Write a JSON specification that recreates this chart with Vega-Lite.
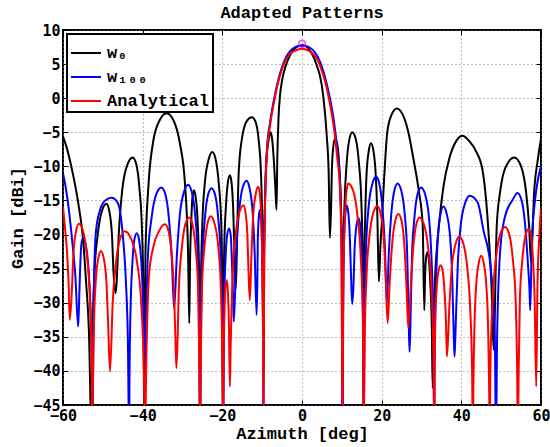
{
"$schema": "https://vega.github.io/schema/vega-lite/v6.json",
"width": 478, "height": 375,
"autosize": {"type": "none"},
"padding": {"left": 63, "top": 30, "right": 9, "bottom": 42},
"background": "white",
"title": {"text": "Adapted Patterns", "font": "Liberation Mono", "fontSize": 17, "fontWeight": "bold", "color": "black", "offset": 1},
"datasets": {
"black": [
{"x":-60,"y":-5.6},{"x":-59,"y":-7.4},{"x":-58,"y":-9.8},{"x":-57,"y":-12.6},{"x":-56,"y":-16},{"x":-55,"y":-20.5},{"x":-54.2,"y":-27},{"x":-53.5,"y":-34},{"x":-52.8,"y":-50},
{"x":-52.6,"y":-36},{"x":-52.1,"y":-25.7},{"x":-51.3,"y":-20.1},{"x":-50.2,"y":-16.5},{"x":-49.1,"y":-15.5},{"x":-48.4,"y":-16.5},{"x":-47.7,"y":-20.1},{"x":-47.3,"y":-25.7},{"x":-46.8,"y":-28.6},
{"x":-45.9,"y":-18.9},{"x":-45.1,"y":-13.3},{"x":-43.8,"y":-9.7},{"x":-42.5,"y":-8.7},{"x":-41.6,"y":-9.7},{"x":-40.8,"y":-13.3},{"x":-40.2,"y":-18.9},{"x":-39.8,"y":-29.2},{"x":-39.6,"y":-50},
{"x":-39.3,"y":-22.7},{"x":-38.5,"y":-12.4},{"x":-37.4,"y":-6.5},{"x":-35.7,"y":-3.2},{"x":-34.0,"y":-2.2},{"x":-32.3,"y":-3.2},{"x":-30.6,"y":-6.8},{"x":-29.4,"y":-12.4},{"x":-28.6,"y":-22.7},{"x":-28.3,"y":-33},
{"x":-28.1,"y":-23.7},{"x":-27.8,"y":-18.1},{"x":-27.5,"y":-14.5},{"x":-27.1,"y":-13.5},{"x":-26.7,"y":-14.5},{"x":-26.2,"y":-18.1},{"x":-25.9,"y":-23.7},{"x":-25.7,"y":-34},{"x":-25.6,"y":-50},
{"x":-25.4,"y":-28.4},{"x":-25.0,"y":-18.1},{"x":-24.4,"y":-12.5},{"x":-23.4,"y":-8.9},{"x":-22.5,"y":-7.9},{"x":-21.7,"y":-8.9},{"x":-20.9,"y":-12.5},{"x":-20.3,"y":-18.1},{"x":-20.0,"y":-28.4},{"x":-19.8,"y":-50},
{"x":-19.7,"y":-31.8},{"x":-19.5,"y":-21.5},{"x":-19.1,"y":-15.9},{"x":-18.6,"y":-12.3},{"x":-18.1,"y":-11.3},{"x":-17.7,"y":-12.3},{"x":-17.3,"y":-15.9},{"x":-17.0,"y":-21.5},{"x":-16.7,"y":-28.1},
{"x":-15.9,"y":-11},{"x":-15.1,"y":-6},{"x":-13.8,"y":-3.3},{"x":-12.6,"y":-2.8},{"x":-11.7,"y":-3.4},{"x":-10.9,"y":-6},{"x":-10.3,"y":-11},{"x":-9.9,"y":-22},{"x":-9.7,"y":-40},
{"x":-9.6,"y":-25.7},{"x":-9.3,"y":-15.4},{"x":-9.0,"y":-9.8},{"x":-8.4,"y":-6.2},{"x":-7.9,"y":-5.0},{"x":-7.5,"y":-6.0},{"x":-7.0,"y":-9.8},{"x":-6.7,"y":-13},{"x":-6.4,"y":-16.4},
{"x":-6.2,"y":-9},{"x":-5.9,"y":-3},{"x":-5.5,"y":0.5},{"x":-5.0,"y":2.6},{"x":-4.0,"y":4.9},{"x":-3.0,"y":6.3},{"x":-2.0,"y":7.2},{"x":-1.0,"y":7.6},{"x":0,"y":7.75},{"x":1,"y":7.6},{"x":2,"y":7.0},{"x":3,"y":5.9},{"x":4,"y":4.3},{"x":4.5,"y":3.3},{"x":5.3,"y":0.5},{"x":6.2,"y":-5.4},{"x":6.7,"y":-11},{"x":7.0,"y":-20.5},
{"x":7.3,"y":-16.1},{"x":7.5,"y":-10.5},{"x":7.9,"y":-6.9},{"x":8.3,"y":-5.9},{"x":8.9,"y":-6.9},{"x":9.4,"y":-10.5},{"x":9.8,"y":-16.1},{"x":10.1,"y":-26.4},{"x":10.2,"y":-50},
{"x":10.3,"y":-25.5},{"x":10.7,"y":-15.2},{"x":11.2,"y":-9.6},{"x":11.9,"y":-6.0},{"x":12.6,"y":-5.0},{"x":13.5,"y":-6.0},{"x":14.3,"y":-9.6},{"x":14.9,"y":-15.2},{"x":15.3,"y":-25.5},{"x":15.5,"y":-50},
{"x":15.6,"y":-27.1},{"x":15.9,"y":-16.8},{"x":16.2,"y":-11.2},{"x":16.8,"y":-7.6},{"x":17.3,"y":-6.6},{"x":17.9,"y":-7.6},{"x":18.5,"y":-11.2},{"x":18.9,"y":-16.8},{"x":19.3,"y":-26.9},
{"x":19.7,"y":-21.5},{"x":20.0,"y":-18.6},{"x":20.6,"y":-12},{"x":21.4,"y":-5},{"x":22.5,"y":-2.4},{"x":23.8,"y":-1.5},{"x":25.2,"y":-2.3},{"x":26.7,"y":-5},{"x":28.0,"y":-9},{"x":29.3,"y":-13.5},{"x":30.3,"y":-18.6},{"x":30.7,"y":-31.1},
{"x":30.9,"y":-26},{"x":31.2,"y":-23.2},{"x":31.5,"y":-22.6},{"x":31.8,"y":-23.3},{"x":32.2,"y":-27},{"x":32.6,"y":-34},{"x":32.8,"y":-42.5},
{"x":33.3,"y":-28},{"x":34.4,"y":-18.6},{"x":35.5,"y":-13},{"x":37.0,"y":-8.8},{"x":38.7,"y":-6.3},{"x":40.3,"y":-5.5},{"x":42.0,"y":-6.3},{"x":43.7,"y":-7.8},{"x":45.3,"y":-10.5},{"x":46.7,"y":-18.6},{"x":47.6,"y":-28},{"x":48.1,"y":-36.9},
{"x":48.9,"y":-18.6},{"x":49.8,"y":-13.5},{"x":51.0,"y":-10.3},{"x":53.3,"y":-8.7},{"x":55.0,"y":-10},{"x":56.3,"y":-14},{"x":57.0,"y":-18.6},{"x":57.5,"y":-24},
{"x":58.3,"y":-13.5},{"x":59.2,"y":-9},{"x":60,"y":-5.9}
],
"blue": [
{"x":-60,"y":-11.0},{"x":-59.2,"y":-13.5},{"x":-58.4,"y":-17},{"x":-57.6,"y":-21.5},{"x":-56.9,"y":-26},{"x":-56.2,"y":-33.5},
{"x":-56.0,"y":-30.7},{"x":-55.7,"y":-25.1},{"x":-55.4,"y":-21.5},{"x":-55.0,"y":-20.5},{"x":-54.3,"y":-21.5},{"x":-53.6,"y":-25.1},{"x":-53.1,"y":-30.7},{"x":-52.7,"y":-41},{"x":-52.6,"y":-50},
{"x":-52.3,"y":-30},{"x":-51.8,"y":-20},{"x":-50.9,"y":-16.8},{"x":-49.4,"y":-15.0},{"x":-47.8,"y":-14.6},{"x":-46.3,"y":-15.3},{"x":-45.0,"y":-20},{"x":-44.2,"y":-27},{"x":-43.7,"y":-36},{"x":-43.4,"y":-50},
{"x":-43.3,"y":-40.3},{"x":-43.0,"y":-30.0},{"x":-42.6,"y":-24.4},{"x":-42.1,"y":-20.8},{"x":-41.5,"y":-19.8},{"x":-40.9,"y":-20.8},{"x":-40.3,"y":-24.4},{"x":-39.9,"y":-30.0},{"x":-39.5,"y":-39.1},
{"x":-39.2,"y":-33.6},{"x":-38.7,"y":-23.3},{"x":-37.8,"y":-17.7},{"x":-36.6,"y":-14.1},{"x":-35.3,"y":-13.1},{"x":-34.3,"y":-14.1},{"x":-33.4,"y":-17.7},{"x":-32.7,"y":-23.3},{"x":-32.1,"y":-30.8},
{"x":-31.4,"y":-22.9},{"x":-30.7,"y":-17.3},{"x":-29.6,"y":-13.7},{"x":-28.6,"y":-12.7},{"x":-27.7,"y":-13.7},{"x":-26.8,"y":-17.3},{"x":-26.2,"y":-22.9},{"x":-25.8,"y":-33.2},{"x":-25.6,"y":-50},
{"x":-25.4,"y":-33.7},{"x":-25.0,"y":-23.4},{"x":-24.4,"y":-17.8},{"x":-23.6,"y":-14.2},{"x":-22.7,"y":-13.2},{"x":-21.8,"y":-14.2},{"x":-21.0,"y":-17.8},{"x":-20.4,"y":-23.4},{"x":-20.0,"y":-33.7},{"x":-19.8,"y":-50},
{"x":-19.7,"y":-39.6},{"x":-19.5,"y":-29.3},{"x":-19.2,"y":-23.7},{"x":-18.8,"y":-20.1},{"x":-18.3,"y":-19.1},{"x":-17.9,"y":-20.1},{"x":-17.6,"y":-23.7},{"x":-17.3,"y":-29.3},{"x":-17.1,"y":-32.8},
{"x":-16.5,"y":-22.3},{"x":-15.8,"y":-16.7},{"x":-14.9,"y":-13.1},{"x":-13.9,"y":-12.1},{"x":-13.2,"y":-13.1},{"x":-12.4,"y":-16.7},{"x":-11.9,"y":-22.3},{"x":-11.4,"y":-31.8},
{"x":-11.2,"y":-26.6},{"x":-11.1,"y":-21},{"x":-10.85,"y":-17.4},{"x":-10.6,"y":-16.4},{"x":-10.35,"y":-17.4},{"x":-10.05,"y":-21},{"x":-9.9,"y":-26.6},{"x":-9.75,"y":-36},{"x":-9.7,"y":-50},
{"x":-9.5,"y":-24},{"x":-9.2,"y":-13},{"x":-8.8,"y":-7.5},{"x":-8.0,"y":-3.5},{"x":-7,"y":-0.1},{"x":-6,"y":2.6},{"x":-5,"y":4.6},{"x":-4,"y":6.0},{"x":-3,"y":6.9},{"x":-2,"y":7.4},{"x":-1,"y":7.65},{"x":0,"y":7.7},{"x":1,"y":7.65},{"x":2,"y":7.4},{"x":3,"y":6.9},{"x":4,"y":6.0},{"x":5,"y":4.6},{"x":6,"y":2.6},{"x":7,"y":0.0},{"x":8,"y":-3.3},{"x":8.8,"y":-7.2},{"x":9.5,"y":-12},{"x":9.9,"y":-20},{"x":10.2,"y":-50},
{"x":10.3,"y":-36.2},{"x":10.4,"y":-25.9},{"x":10.6,"y":-20.3},{"x":10.9,"y":-16.7},{"x":11.2,"y":-15.7},{"x":11.6,"y":-16.7},{"x":12.0,"y":-20.3},{"x":12.3,"y":-25.9},{"x":12.6,"y":-30.2},
{"x":12.9,"y":-27.8},{"x":13.2,"y":-22.2},{"x":13.7,"y":-18.6},{"x":14.2,"y":-17.6},{"x":14.6,"y":-18.6},{"x":15.0,"y":-22.2},{"x":15.2,"y":-27.8},{"x":15.4,"y":-38},{"x":15.5,"y":-50},
{"x":15.7,"y":-32},{"x":16.1,"y":-21.7},{"x":16.7,"y":-16.1},{"x":17.7,"y":-12.5},{"x":18.6,"y":-11.5},{"x":19.4,"y":-12.5},{"x":20.2,"y":-16.1},{"x":20.8,"y":-21.7},{"x":21.3,"y":-30.1},
{"x":21.8,"y":-22.7},{"x":22.4,"y":-17.1},{"x":23.2,"y":-13.5},{"x":24.0,"y":-12.5},{"x":24.9,"y":-13.5},{"x":25.8,"y":-17.1},{"x":26.4,"y":-22.7},{"x":26.8,"y":-33},{"x":27.0,"y":-37.2},
{"x":27.2,"y":-33.6},{"x":27.6,"y":-23.3},{"x":28.2,"y":-17.7},{"x":29.0,"y":-14.1},{"x":29.9,"y":-13.1},{"x":30.9,"y":-14.1},{"x":31.9,"y":-17.7},{"x":32.5,"y":-23.3},{"x":33.0,"y":-33.6},{"x":33.2,"y":-50},
{"x":33.3,"y":-36.4},{"x":33.7,"y":-26.1},{"x":34.1,"y":-20.5},{"x":34.8,"y":-16.9},{"x":35.5,"y":-15.9},{"x":36.3,"y":-16.9},{"x":37.2,"y":-20.5},{"x":37.7,"y":-26.1},{"x":38.1,"y":-35},{"x":38.3,"y":-37.9},
{"x":38.5,"y":-34.8},{"x":39.1,"y":-24.5},{"x":39.8,"y":-18.9},{"x":41.0,"y":-15.3},{"x":42.1,"y":-14.3},{"x":44.1,"y":-15.3},{"x":45.6,"y":-19.5},{"x":47.3,"y":-24.5},{"x":48.4,"y":-34.8},{"x":48.7,"y":-50},
{"x":49.0,"y":-34.4},{"x":49.8,"y":-22},{"x":50.9,"y":-17.5},{"x":52.9,"y":-14.9},{"x":54.1,"y":-13.9},{"x":55.1,"y":-14.9},{"x":56.0,"y":-18.5},{"x":56.7,"y":-24.1},{"x":57.1,"y":-28},{"x":57.3,"y":-31.1},
{"x":57.7,"y":-21},{"x":58.4,"y":-15.5},{"x":59.2,"y":-12},{"x":60,"y":-10.0}
],
"red": [
{"x":-60,"y":-15.9},{"x":-59.5,"y":-19},{"x":-59.0,"y":-22.5},{"x":-58.6,"y":-27},{"x":-58.3,"y":-32.5},
{"x":-57.8,"y":-28.6},{"x":-57.4,"y":-23.0},{"x":-56.7,"y":-19.4},{"x":-56.0,"y":-18.4},{"x":-55.0,"y":-19.4},{"x":-54.0,"y":-23.0},{"x":-53.3,"y":-28.6},{"x":-52.8,"y":-38.9},{"x":-52.6,"y":-50},
{"x":-52.5,"y":-42.9},{"x":-52.2,"y":-32.6},{"x":-51.8,"y":-27.0},{"x":-51.1,"y":-23.4},{"x":-50.5,"y":-22.4},{"x":-49.8,"y":-23.4},{"x":-49.1,"y":-27.0},{"x":-48.7,"y":-32.6},{"x":-48.2,"y":-40.1},
{"x":-47.5,"y":-29.7},{"x":-46.7,"y":-24.1},{"x":-45.6,"y":-20.5},{"x":-44.5,"y":-19.5},{"x":-43.0,"y":-20.5},{"x":-41.4,"y":-24.1},{"x":-40.4,"y":-29.7},{"x":-39.7,"y":-40},{"x":-39.4,"y":-50},
{"x":-39.1,"y":-39},{"x":-38.4,"y":-26},{"x":-37.4,"y":-22},{"x":-35.9,"y":-19.5},{"x":-34.4,"y":-18.5},{"x":-33.5,"y":-19.5},{"x":-32.7,"y":-23.1},{"x":-32.1,"y":-28.7},{"x":-31.7,"y":-37},{"x":-31.5,"y":-39.6},
{"x":-30.9,"y":-27.7},{"x":-30.2,"y":-22.1},{"x":-29.3,"y":-18.5},{"x":-28.3,"y":-17.5},{"x":-27.5,"y":-18.5},{"x":-26.7,"y":-22.1},{"x":-26.1,"y":-27.7},{"x":-25.8,"y":-38},{"x":-25.6,"y":-50},
{"x":-25.4,"y":-37.8},{"x":-25.1,"y":-27.5},{"x":-24.5,"y":-21.9},{"x":-23.7,"y":-18.3},{"x":-22.9,"y":-17.3},{"x":-22.0,"y":-18.3},{"x":-21.0,"y":-21.9},{"x":-20.4,"y":-27.5},{"x":-20.0,"y":-37.8},{"x":-19.8,"y":-50},
{"x":-19.7,"y":-40},{"x":-19.5,"y":-32},{"x":-19.2,"y":-27.7},{"x":-18.9,"y":-26.7},{"x":-18.6,"y":-28.5},{"x":-18.35,"y":-33},{"x":-18.1,"y":-42.3},
{"x":-17.9,"y":-36.2},{"x":-17.4,"y":-25.9},{"x":-16.7,"y":-20.3},{"x":-15.7,"y":-16.7},{"x":-14.7,"y":-15.7},{"x":-14.2,"y":-16.7},{"x":-13.7,"y":-20.3},{"x":-13.4,"y":-25.9},{"x":-13.1,"y":-29.6},
{"x":-12.7,"y":-23.2},{"x":-12.3,"y":-17.6},{"x":-11.6,"y":-14.0},{"x":-11.0,"y":-13.0},{"x":-10.6,"y":-14.0},{"x":-10.2,"y":-17.6},{"x":-10.0,"y":-23.2},{"x":-9.8,"y":-33.5},{"x":-9.7,"y":-50},
{"x":-9.5,"y":-25},{"x":-9.2,"y":-14},{"x":-8.8,"y":-8},{"x":-8.0,"y":-3.9},{"x":-7.0,"y":-0.5},{"x":-6.0,"y":2.3},{"x":-5.0,"y":4.3},{"x":-4.0,"y":5.7},{"x":-3.0,"y":6.5},{"x":-2.0,"y":6.9},{"x":-1.0,"y":7.15},{"x":0,"y":7.25},{"x":1,"y":7.15},{"x":2,"y":6.85},{"x":3,"y":6.4},{"x":4,"y":5.5},{"x":5,"y":4.0},{"x":6,"y":2.0},{"x":7,"y":-0.8},{"x":8,"y":-4.3},{"x":8.8,"y":-8.5},{"x":9.5,"y":-13},{"x":9.9,"y":-22},{"x":10.2,"y":-50},
{"x":10.3,"y":-33},{"x":10.5,"y":-22.7},{"x":10.8,"y":-17.1},{"x":11.2,"y":-13.5},{"x":11.6,"y":-12.5},{"x":12.8,"y":-13.5},{"x":13.9,"y":-17.1},{"x":14.7,"y":-22.7},{"x":15.3,"y":-33},{"x":15.5,"y":-50},
{"x":15.7,"y":-36.3},{"x":16.2,"y":-26},{"x":16.9,"y":-20.4},{"x":17.9,"y":-16.8},{"x":18.9,"y":-15.8},{"x":19.7,"y":-16.8},{"x":20.5,"y":-20.4},{"x":21.0,"y":-26},{"x":21.5,"y":-33.0},
{"x":22.0,"y":-27.2},{"x":22.6,"y":-21.6},{"x":23.4,"y":-18.0},{"x":24.2,"y":-17.0},{"x":25.0,"y":-18.0},{"x":25.7,"y":-21.6},{"x":26.2,"y":-27.2},{"x":26.7,"y":-33.7},
{"x":27.3,"y":-27.7},{"x":27.9,"y":-22.1},{"x":28.7,"y":-18.5},{"x":29.5,"y":-17.5},{"x":30.6,"y":-18.5},{"x":31.7,"y":-22.1},{"x":32.5,"y":-27.7},{"x":33.0,"y":-38},{"x":33.2,"y":-50},
{"x":33.3,"y":-40},{"x":33.5,"y":-32},{"x":33.8,"y":-28},{"x":34.3,"y":-25.3},{"x":34.8,"y":-24.5},{"x":35.3,"y":-25.3},{"x":35.8,"y":-28.5},{"x":36.1,"y":-32},{"x":36.4,"y":-37.9},
{"x":37.0,"y":-30.5},{"x":37.6,"y":-24.9},{"x":38.6,"y":-21.3},{"x":39.5,"y":-20.3},{"x":40.5,"y":-21.3},{"x":41.5,"y":-24.9},{"x":42.2,"y":-30.5},{"x":42.7,"y":-40},{"x":42.9,"y":-50},
{"x":43.0,"y":-43.6},{"x":43.3,"y":-33.3},{"x":43.7,"y":-27.7},{"x":44.4,"y":-24.1},{"x":45.0,"y":-23.1},{"x":45.6,"y":-24.1},{"x":46.3,"y":-27.7},{"x":46.7,"y":-33.3},{"x":47.0,"y":-43.6},{"x":47.1,"y":-50},
{"x":47.3,"y":-39.4},{"x":47.9,"y":-29.1},{"x":48.7,"y":-23.5},{"x":49.8,"y":-19.9},{"x":51.0,"y":-18.9},{"x":52.0,"y":-19.9},{"x":52.9,"y":-23.5},{"x":53.6,"y":-29.1},{"x":54.0,"y":-39.4},{"x":54.2,"y":-50},
{"x":54.4,"y":-39.7},{"x":54.7,"y":-29.4},{"x":55.3,"y":-23.8},{"x":56.1,"y":-20.2},{"x":56.9,"y":-19.2},{"x":57.5,"y":-20.2},{"x":58.0,"y":-23.8},{"x":58.4,"y":-29.4},{"x":58.8,"y":-42.3},
{"x":59.1,"y":-28},{"x":59.5,"y":-21},{"x":60,"y":-16.1}
],
"peak": [{"x":0,"y":7.95}]
},
"layer": [
{"data": {"name": "black"},
 "mark": {"type": "line", "clip": true, "strokeWidth": 2, "interpolate": "monotone"},
 "encoding": {
  "x": {"field": "x", "type": "quantitative", "scale": {"domain": [-60, 60], "nice": false, "zero": false},
        "axis": {"values": [-60,-40,-20,0,20,40,60], "title": "Azimuth [deg]", "labelPadding": 8, "titlePadding": 2}},
  "y": {"field": "y", "type": "quantitative", "scale": {"domain": [-45, 10], "nice": false, "zero": false},
        "axis": {"values": [-45,-40,-35,-30,-25,-20,-15,-10,-5,0,5,10], "title": "Gain [dBi]", "labelPadding": 8, "titlePadding": 6}},
  "color": {"datum": "w₀", "type": "nominal",
            "scale": {"domain": ["w₀", "w₁₀₀", "Analytical"], "range": ["#000000", "#0000ff", "#ff0000"]},
            "legend": {"title": null, "orient": "top-left", "offset": 4}}
 }},
{"data": {"name": "blue"},
 "mark": {"type": "line", "clip": true, "strokeWidth": 2, "interpolate": "monotone"},
 "encoding": {
  "x": {"field": "x", "type": "quantitative", "axis": null},
  "y": {"field": "y", "type": "quantitative", "axis": null},
  "color": {"datum": "w₁₀₀", "type": "nominal"}
 }},
{"data": {"name": "red"},
 "mark": {"type": "line", "clip": true, "strokeWidth": 2, "interpolate": "monotone"},
 "encoding": {
  "x": {"field": "x", "type": "quantitative", "axis": null},
  "y": {"field": "y", "type": "quantitative", "axis": null},
  "color": {"datum": "Analytical", "type": "nominal"}
 }},
{"data": {"name": "peak"},
 "mark": {"type": "point", "shape": "circle", "filled": false, "color": "#ff00ff", "size": 45, "strokeWidth": 1.5},
 "encoding": {
  "x": {"field": "x", "type": "quantitative", "axis": {"orient": "top", "values": [-60,-40,-20,0,20,40,60], "labels": false, "grid": false, "title": null}},
  "y": {"field": "y", "type": "quantitative", "axis": {"orient": "right", "values": [-45,-40,-35,-30,-25,-20,-15,-10,-5,0,5,10], "labels": false, "grid": false, "title": null}}
 }}
],
"resolve": {"axis": {"x": "independent", "y": "independent"}},
"config": {
 "view": {"stroke": "black", "strokeWidth": 2},
 "axis": {"domain": false, "grid": true, "gridColor": "#7a7a7a", "gridDash": [1, 3], "gridWidth": 1,
          "tickColor": "black", "tickSize": -5, "tickWidth": 1, "labelFlush": false,
          "labelFont": "DejaVu Sans Mono", "labelFontWeight": "bold", "labelFontSize": 15, "labelColor": "black",
          "titleFont": "Liberation Mono", "titleFontWeight": "bold", "titleFontSize": 17, "titleColor": "black"},
 "legend": {"symbolType": "stroke", "symbolSize": 900, "symbolStrokeWidth": 2,
            "labelFont": "Liberation Mono", "labelFontWeight": "bold", "labelFontSize": 17, "labelColor": "black", "labelLimit": 300,
            "strokeColor": "black", "strokeWidth": 2, "fillColor": "white", "padding": 3, "rowPadding": 0, "labelOffset": 5}
}
}
